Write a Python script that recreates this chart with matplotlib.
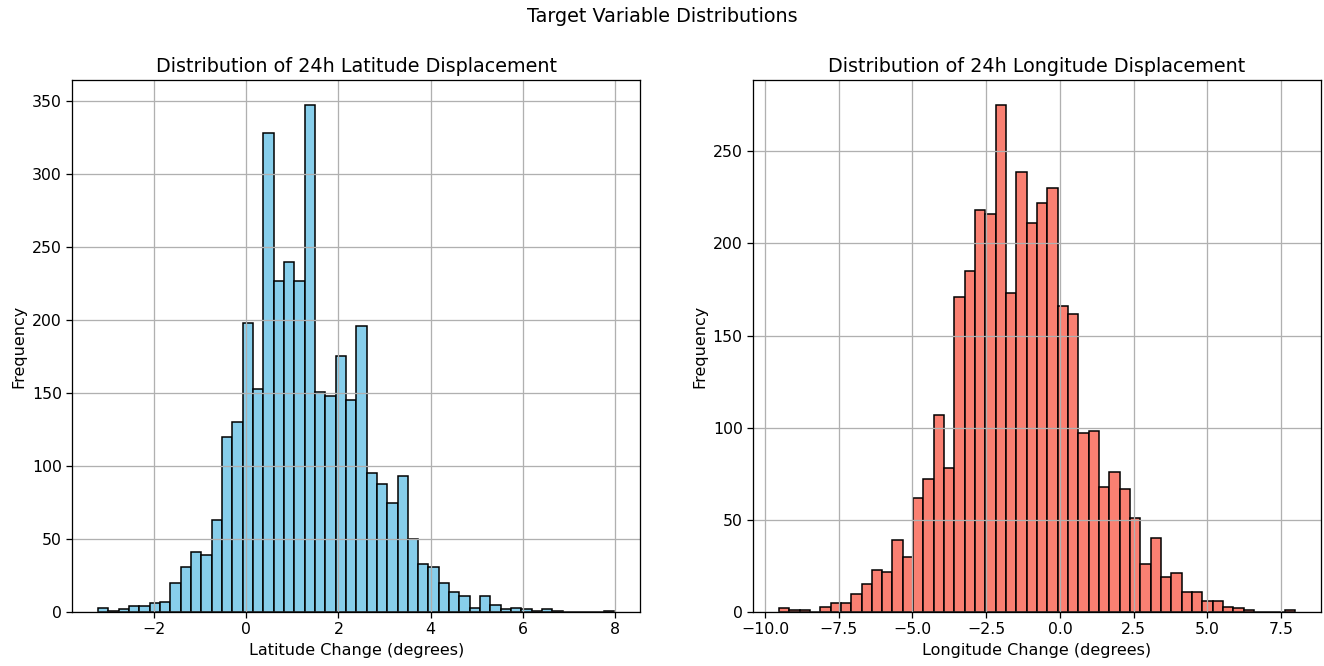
import numpy as np
import matplotlib
matplotlib.use('Agg')
import matplotlib.pyplot as plt

# bin ranges (50 equal bins each)
lat_range = (-3.22, 7.99)
lon_range = (-9.53, 7.98)

# counts per bin
lat_counts = [3, 1, 2, 4, 4, 6, 7, 20, 31, 41,
              39, 63, 120, 130, 198, 153, 328, 227, 240, 227,
              347, 151, 148, 175, 145, 196, 95, 88, 75, 93,
              50, 33, 31, 20, 14, 11, 3, 11, 5, 2,
              3, 2, 1, 2, 1, 0, 0, 0, 0, 1]
lon_counts = [2, 1, 1, 0, 3, 5, 5, 10, 15, 23,
              22, 39, 30, 62, 72, 107, 78, 171, 185, 218,
              216, 275, 173, 239, 211, 222, 230, 166, 162, 97,
              98, 68, 76, 67, 51, 26, 40, 19, 21, 11,
              11, 6, 6, 3, 2, 1, 0, 0, 0, 1]

plt.rcParams['axes.linewidth'] = 0.92
plt.rcParams['grid.linewidth'] = 0.92
plt.rcParams['xtick.major.width'] = 0.92
plt.rcParams['ytick.major.width'] = 0.92
plt.rcParams['xtick.major.size'] = 4
plt.rcParams['ytick.major.size'] = 4


def draw_hist(ax, counts, rng, color, title, xlabel):
    edges = np.linspace(rng[0], rng[1], len(counts) + 1)
    centers = (edges[:-1] + edges[1:]) / 2
    ax.hist(centers, bins=edges, weights=counts, color=color,
            edgecolor='black', linewidth=1.1)
    ax.set_title(title, fontsize=13.8)
    ax.set_xlabel(xlabel, fontsize=11.5)
    ax.set_ylabel('Frequency', fontsize=11.5)
    ax.tick_params(labelsize=11.3)
    ax.grid(True)


fig, axes = plt.subplots(1, 2, figsize=(13.24, 6.66), dpi=100)
draw_hist(axes[0], lat_counts, lat_range, 'skyblue',
          'Distribution of 24h Latitude Displacement', 'Latitude Change (degrees)')
draw_hist(axes[1], lon_counts, lon_range, 'salmon',
          'Distribution of 24h Longitude Displacement', 'Longitude Change (degrees)')
fig.suptitle('Target Variable Distributions', fontsize=13.8, y=0.99)
fig.subplots_adjust(left=0.0546, right=0.9977, bottom=0.081, top=0.88, wspace=0.199)
fig.savefig('out.png', dpi=100)
